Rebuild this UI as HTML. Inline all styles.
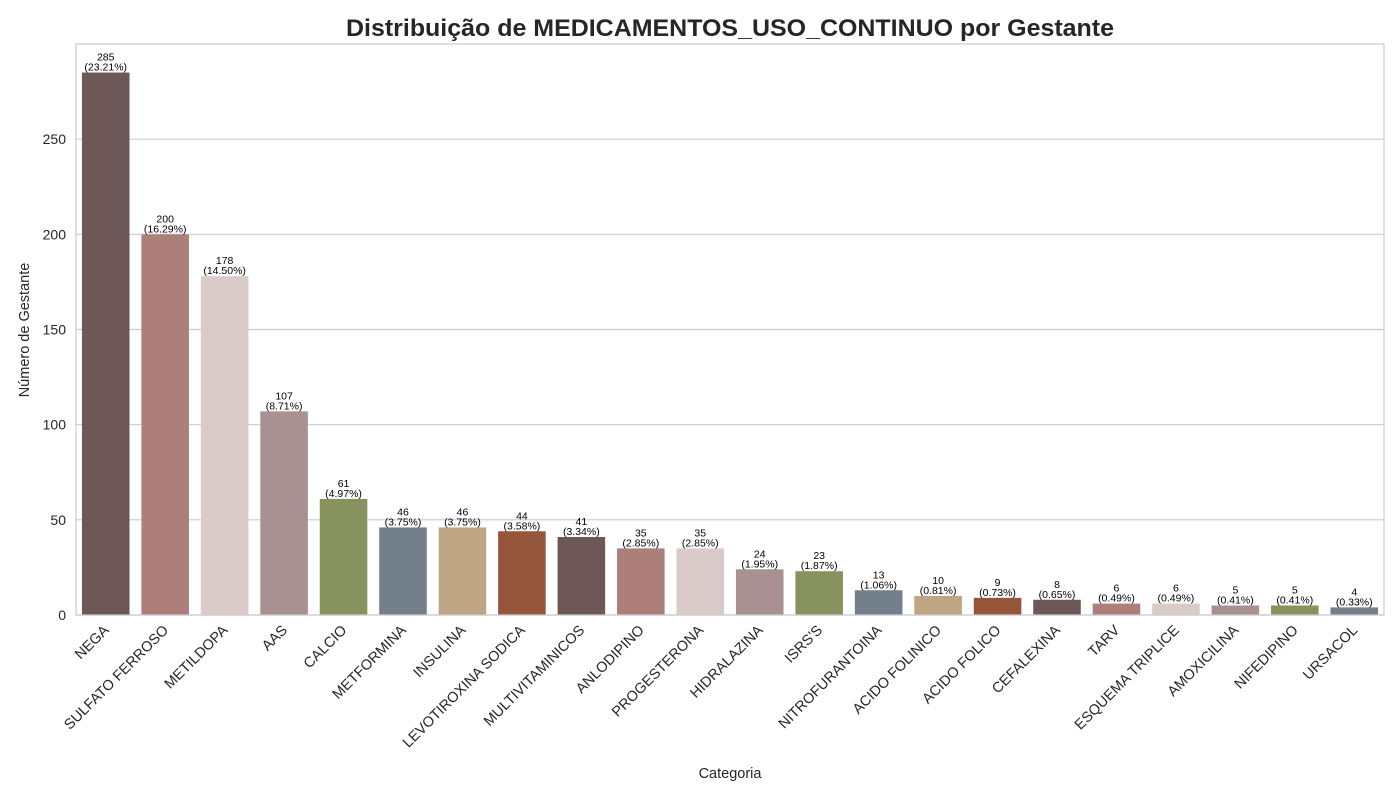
<!DOCTYPE html>
<html><head><meta charset="utf-8"><style>
body{margin:0;background:#fff;width:1400px;height:800px;overflow:hidden;font-family:"Liberation Sans",sans-serif}
</style></head><body>
<svg id="chart" width="1400" height="800" xmlns="http://www.w3.org/2000/svg" font-family="Liberation Sans, sans-serif">
<rect width="1400" height="800" fill="#fff"/>
<text x="730" y="36" text-anchor="middle" font-size="24" font-weight="bold" fill="#262626" textLength="768" lengthAdjust="spacingAndGlyphs">Distribuição de MEDICAMENTOS_USO_CONTINUO por Gestante</text>
<text x="730" y="778" text-anchor="middle" font-size="14.5" fill="#262626">Categoria</text>
<text transform="translate(29,330) rotate(-90)" text-anchor="middle" font-size="14.5" fill="#262626">Número de Gestante</text>
<g id="grid"></g><g id="bars"></g><g id="labels"></g>
<rect x="76" y="44" width="1308" height="571" fill="none" stroke="#cccccc" stroke-width="1.2"/>
</svg>
<script>
const categories=["NEGA","SULFATO FERROSO","METILDOPA","AAS","CALCIO","METFORMINA","INSULINA","LEVOTIROXINA SODICA","MULTIVITAMINICOS","ANLODIPINO","PROGESTERONA","HIDRALAZINA","ISRS'S","NITROFURANTOINA","ACIDO FOLINICO","ACIDO FOLICO","CEFALEXINA","TARV","ESQUEMA TRIPLICE","AMOXICILINA","NIFEDIPINO","URSACOL"];
const counts=[285,200,178,107,61,46,46,44,41,35,35,24,23,13,10,9,8,6,6,5,5,4];
const percents=["23.21%","16.29%","14.50%","8.71%","4.97%","3.75%","3.75%","3.58%","3.34%","2.85%","2.85%","1.95%","1.87%","1.06%","0.81%","0.73%","0.65%","0.49%","0.49%","0.41%","0.41%","0.33%"];
const yTicks=[0,50,100,150,200,250];
const palette=["#6d5857","#ad7f7a","#dbcbc8","#a89190","#87925f","#737f8a","#bea583","#94553a"];
const NS="http://www.w3.org/2000/svg";
const L=76,R=1384,T=44,B=615,YMAX=300;
const y=v=>B-(v/YMAX)*(B-T);
const slot=(R-L)/categories.length;
const x=i=>L+slot*(i+0.5);
function mk(tag,attrs,parent,txt){const e=document.createElementNS(NS,tag);for(const k in attrs)e.setAttribute(k,attrs[k]);if(txt!==undefined)e.textContent=txt;parent.appendChild(e);return e;}
const grid=document.getElementById('grid'),bars=document.getElementById('bars'),labels=document.getElementById('labels');
yTicks.forEach(t=>{
  const l=mk('line',{x1:L,x2:R,y1:y(t),y2:y(t),stroke:'#cccccc','stroke-width':1.2},grid);
  
  
  const tx=mk('text',{x:L-10,y:y(t)+5,'text-anchor':'end','font-size':14,fill:'#262626'},grid,t);
  
  
});
const bw=slot*0.8;
categories.forEach((c,i)=>{
  const r=mk('rect',{x:x(i)-bw/2,y:y(counts[i]),width:bw,height:B-y(counts[i]),fill:palette[i%palette.length]},bars);
  
  
  const t1=mk('text',{x:x(i),y:y(counts[i])-12,'text-anchor':'middle','font-size':10.5,fill:'#000'},labels,counts[i]);
  
  
  const t2=mk('text',{x:x(i),y:y(counts[i])-2,'text-anchor':'middle','font-size':10.5,fill:'#000'},labels,'('+percents[i]+')');
  
  
  const xl=mk('text',{transform:`translate(${x(i)+4},${B+16}) rotate(-45)`,'text-anchor':'end','font-size':14.5,fill:'#262626'},labels,c);
  
  
});
</script>
</body></html>
